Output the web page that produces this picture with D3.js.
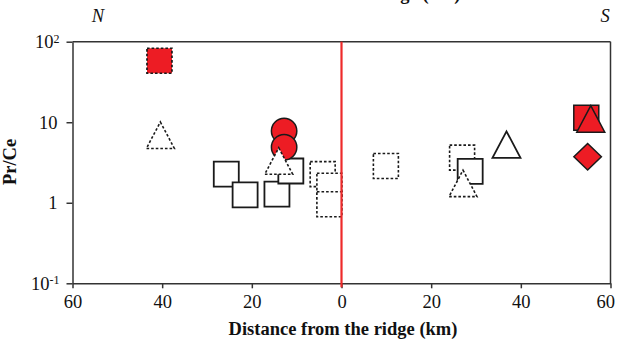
<!DOCTYPE html>
<html>
<head>
<meta charset="utf-8">
<script src="https://cdn.jsdelivr.net/npm/d3@7"></script>
<style>
  html, body { margin: 0; padding: 0; background: #fff; }
  svg { display: block; }
  text { font-family: "Liberation Serif", "Times New Roman", serif; fill: #111; }
</style>
</head>
<body>
<svg id="chart" width="618" height="343"></svg>
<script>
// Distance from the ridge in km: negative = north flank, positive = south flank.
const openSquareKm      = [-25.7, -21.5, -14.4, -11.3, 28.7];
const openSquarePrCe    = [2.27, 1.25, 1.28, 2.48, 2.45];
const dashedSquareKm    = [-4.2, -2.7, -2.7, 9.9, 26.9];
const dashedSquarePrCe  = [2.27, 1.63, 0.96, 2.86, 3.64];
const redDashedSqKm     = [-40.6];
const redDashedSqPrCe   = [58];
const redCircleKm       = [-12.8, -12.8];
const redCirclePrCe     = [7.8, 4.9];
const dashedTriangleKm  = [-40.4, -14.0, 27.1];
const dashedTrianglePrCe= [6.9, 3.3, 1.74];
const openTriangleKm    = [36.8];
const openTrianglePrCe  = [5.28];
const redSquareKm       = [54.6];
const redSquarePrCe     = [11.4];
const redTriangleKm     = [55.6];
const redTrianglePrCe   = [11.0];
const redDiamondKm      = [54.9];
const redDiamondPrCe    = [3.73];

const xTicks = [-60, -40, -20, 0, 20, 40, 60];
const yTicks = [0.1, 1, 10, 100];
const yTickLabels = [["10", "-1"], ["1", ""], ["10", ""], ["10", "2"]];

const RED = "#ed1c24";
const INK = "#1a1a1a";
const FONT = "18.5px";

const svg = d3.select("#chart");
const plot = { left: 72.5, right: 610.5, top: 41.7, bottom: 283.3 };

const x = d3.scaleLinear().domain([-60, 60]).range([plot.left, plot.right]);
const y = d3.scaleLog().domain([0.1, 100]).range([plot.bottom, plot.top]);

// Title line of the panel above, only its lowest strokes reach this panel
svg.append("text")
  .attr("x", 346).attr("y", 0)
  .attr("text-anchor", "middle")
  .style("font-size", FONT).style("font-weight", "bold")
  .text("Distance from the ridge (km)");

// Flank markers
svg.append("text").attr("x", 98).attr("y", 22).attr("text-anchor", "middle")
  .style("font-size", FONT).style("font-style", "italic").text("N");
svg.append("text").attr("x", 605).attr("y", 22).attr("text-anchor", "middle")
  .style("font-size", FONT).style("font-style", "italic").text("S");

// Frame: top and right borders
svg.append("line").attr("x1", plot.left).attr("x2", plot.right)
  .attr("y1", plot.top).attr("y2", plot.top)
  .attr("stroke", "#333").attr("stroke-width", 1.5);
svg.append("line").attr("x1", plot.right).attr("x2", plot.right)
  .attr("y1", plot.top).attr("y2", plot.bottom)
  .attr("stroke", "#333").attr("stroke-width", 1.5);

// X axis
const xAxis = svg.append("g")
  .attr("transform", `translate(0,${plot.bottom})`)
  .call(d3.axisBottom(x).tickValues(xTicks).tickFormat(d => Math.abs(d))
    .tickSizeInner(5).tickSizeOuter(0).tickPadding(7));
xAxis.select(".domain").attr("stroke", "#333").attr("stroke-width", 1.5);
xAxis.selectAll(".tick line").attr("stroke", "#333").attr("stroke-width", 1.5);
xAxis.selectAll(".tick text")
  .style("font-size", FONT).style("font-family", "Liberation Serif, serif").attr("fill", "#111");
// keep the last label inside the page edge
xAxis.selectAll(".tick text").filter(d => d === 60)
  .attr("text-anchor", "end").attr("x", 4);

// Y axis (log) with power-of-ten labels
const yAxis = svg.append("g")
  .attr("transform", `translate(${plot.left},0)`)
  .call(d3.axisLeft(y).tickValues(yTicks).tickFormat("")
    .tickSizeInner(6).tickSizeOuter(0));
yAxis.select(".domain").attr("stroke", "#333").attr("stroke-width", 1.5);
yAxis.selectAll(".tick line").attr("stroke", "#333").attr("stroke-width", 1.5);
yAxis.selectAll(".tick").each(function(d, i) {
  const [base, exp] = yTickLabels[i];
  const t = d3.select(this).append("text")
    .attr("x", exp ? -13 : -15).attr("dy", "0.32em")
    .attr("text-anchor", "end")
    .style("font-size", FONT).style("font-family", "Liberation Serif, serif")
    .attr("fill", "#111");
  t.append("tspan").text(base);
  if (exp) {
    t.append("tspan").attr("dy", "-0.45em").style("font-size", "12px").text(exp);
  }
});

// Axis titles
svg.append("text")
  .attr("x", 343).attr("y", 335)
  .attr("text-anchor", "middle")
  .style("font-size", FONT).style("font-weight", "bold")
  .text("Distance from the ridge (km)");
svg.append("text")
  .attr("transform", `translate(16,162) rotate(-90)`)
  .attr("text-anchor", "middle")
  .style("font-size", FONT).style("font-weight", "bold")
  .text("Pr/Ce");

// Marker path builders (centred on the bounding box)
const shapes = {
  square: (cx, cy) => { const s = 25; return `M${cx - s/2},${cy - s/2}h${s}v${s}h${-s}Z`; },
  triangle: (cx, cy) => { const w = 28, h = 26.5;
    return `M${cx},${cy - h/2}L${cx + w/2},${cy + h/2}L${cx - w/2},${cy + h/2}Z`; },
  diamond: (cx, cy) => { const w = 27.5, h = 26.5;
    return `M${cx},${cy - h/2}L${cx + w/2},${cy}L${cx},${cy + h/2}L${cx - w/2},${cy}Z`; },
  circle: (cx, cy) => { const r = 12.7;
    return `M${cx - r},${cy}a${r},${r} 0 1,0 ${2*r},0a${r},${r} 0 1,0 ${-2*r},0Z`; }
};

const marks = svg.append("g");
function drawSeries(kms, vals, shape, fill, dashed, width) {
  marks.append("g").selectAll("path")
    .data(kms.map((k, i) => ({ k, v: vals[i] })))
    .join("path")
    .attr("d", d => shapes[shape](x(d.k), y(d.v)))
    .attr("fill", fill)
    .attr("stroke", INK)
    .attr("stroke-width", width)
    .attr("stroke-dasharray", dashed ? "2.6,2" : null)
    .attr("stroke-linejoin", "miter");
}

drawSeries(redDashedSqKm, redDashedSqPrCe, "square", RED, true, 1.7);
drawSeries(dashedSquareKm, dashedSquarePrCe, "square", "#fff", true, 1.6);
drawSeries(openSquareKm, openSquarePrCe, "square", "#fff", false, 1.8);
drawSeries(redCircleKm, redCirclePrCe, "circle", RED, false, 1.5);
drawSeries(dashedTriangleKm, dashedTrianglePrCe, "triangle", "#fff", true, 1.6);
drawSeries(openTriangleKm, openTrianglePrCe, "triangle", "#fff", false, 1.8);
drawSeries(redSquareKm, redSquarePrCe, "square", RED, false, 1.5);
drawSeries(redTriangleKm, redTrianglePrCe, "triangle", RED, false, 1.5);
drawSeries(redDiamondKm, redDiamondPrCe, "diamond", RED, false, 1.5);

// Ridge axis
svg.append("line")
  .attr("x1", x(0)).attr("x2", x(0))
  .attr("y1", plot.top).attr("y2", plot.bottom + 4)
  .attr("stroke", "#ee2a2a").attr("stroke-width", 2.2);
</script>
</body>
</html>
